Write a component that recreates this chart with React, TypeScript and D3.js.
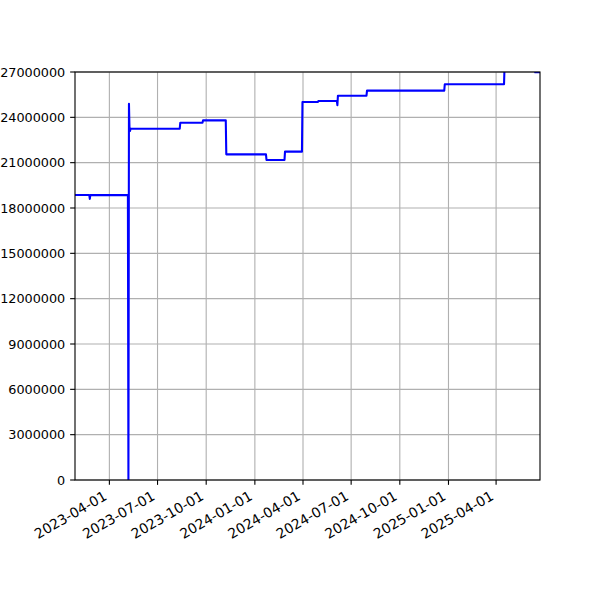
import React from 'react';
import * as d3 from 'd3';

// step series (one entry per change point)
const dates = [
  '2023-01-26', '2023-02-22', '2023-02-23', '2023-02-24', '2023-05-06',
  '2023-05-07', '2023-05-08', '2023-05-09', '2023-05-10', '2023-05-11',
  '2023-08-12', '2023-08-13', '2023-09-24', '2023-09-25', '2023-11-07',
  '2023-11-08', '2024-01-22', '2024-01-23', '2024-02-26', '2024-02-27',
  '2024-03-30', '2024-03-31', '2024-04-29', '2024-04-30', '2024-06-04',
  '2024-06-05', '2024-06-06', '2024-07-30', '2024-07-31', '2024-12-24',
  '2024-12-25', '2025-04-16', '2025-04-17', '2025-06-13', '2025-06-14',
  '2025-06-23',
];
const values = [
  18860000, 18860000, 18600000, 18860000, 18850000,
  0, 24900000, 23250000, 23100000, 23250000,
  23250000, 23640000, 23640000, 23800000, 23800000,
  21550000, 21550000, 21180000, 21180000, 21730000,
  21730000, 25020000, 25020000, 25080000, 25080000,
  24800000, 25430000, 25430000, 25770000, 25770000,
  26190000, 26190000, 27400000, 27400000, 26980000,
  26980000,
];
const xTicks = [
  '2023-04-01', '2023-07-01', '2023-10-01', '2024-01-01', '2024-04-01',
  '2024-07-01', '2024-10-01', '2025-01-01', '2025-04-01',
];
const yTicks = [0, 3000000, 6000000, 9000000, 12000000, 15000000, 18000000, 21000000, 24000000, 27000000];

const W = 600;
const H = 600;
const margin = { top: 72, right: 60, bottom: 120, left: 75 };
const FONT = '"DejaVu Sans", sans-serif';
const FS = 13.89;
const FS_Y = 12.8;
const TICK = 4.86;
const PAD = 4.86;

const parse = d3.utcParse('%Y-%m-%d');

export default function App() {
  const data = dates.map((d, i) => ({ date: parse(d) as Date, value: values[i] }));
  const x0 = margin.left;
  const x1 = W - margin.right;
  const y0 = H - margin.bottom;
  const y1 = margin.top;

  const x = d3.scaleUtc()
    .domain([parse(dates[0]) as Date, parse(dates[dates.length - 1]) as Date])
    .range([x0, x1]);
  const y = d3.scaleLinear().domain([0, 27000000]).range([y0, y1]);

  const line = d3.line<{ date: Date; value: number }>()
    .x(d => x(d.date))
    .y(d => y(d.value));

  // rotated labels, matplotlib style: ha=right, rotation=30
  const asc = 0.76 * FS;
  const desc = 0.223 * FS;

  return (
    <div style={{ position: 'absolute', left: 0, top: 0 }}>
      <svg width={W} height={H} style={{ display: 'block', background: '#fff' }}>
        <defs>
          <clipPath id="plot">
            <rect x={x0} y={y1} width={x1 - x0} height={y0 - y1} />
          </clipPath>
        </defs>

        {/* grid */}
        {xTicks.map(t => (
          <line key={'gx' + t} x1={x(parse(t) as Date)} x2={x(parse(t) as Date)} y1={y0} y2={y1}
            stroke="#b0b0b0" strokeWidth={1.11} />
        ))}
        {yTicks.map(t => (
          <line key={'gy' + t} x1={x0} x2={x1} y1={y(t)} y2={y(t)} stroke="#b0b0b0" strokeWidth={1.11} />
        ))}

        <path d={line(data) || ''} fill="none" stroke="#0000ff" strokeWidth={2.08}
          strokeLinejoin="round" clipPath="url(#plot)" />

        {/* spines */}
        <rect x={x0} y={y1} width={x1 - x0} height={y0 - y1} fill="none" stroke="#000" strokeWidth={1.11} />

        {/* y axis */}
        {yTicks.map(t => (
          <g key={'y' + t}>
            <line x1={x0 - TICK} x2={x0} y1={y(t)} y2={y(t)} stroke="#000" strokeWidth={1.11} />
            <text x={x0 - TICK - PAD} y={y(t)} dy="0.36em" textAnchor="end"
              fontFamily={FONT} fontSize={FS_Y} fill="#000">{d3.format('d')(t)}</text>
          </g>
        ))}

        {/* x axis */}
        {xTicks.map(t => {
          const tx = x(parse(t) as Date);
          const ax = tx - 0.5 * desc;
          const ay = y0 + TICK + PAD + 0.866 * asc;
          return (
            <g key={'x' + t}>
              <line x1={tx} x2={tx} y1={y0} y2={y0 + TICK} stroke="#000" strokeWidth={1.11} />
              <text x={ax} y={ay} textAnchor="end" transform={`rotate(-30, ${ax}, ${ay})`}
                fontFamily={FONT} fontSize={FS} fill="#000">{t}</text>
            </g>
          );
        })}
      </svg>
    </div>
  );
}
